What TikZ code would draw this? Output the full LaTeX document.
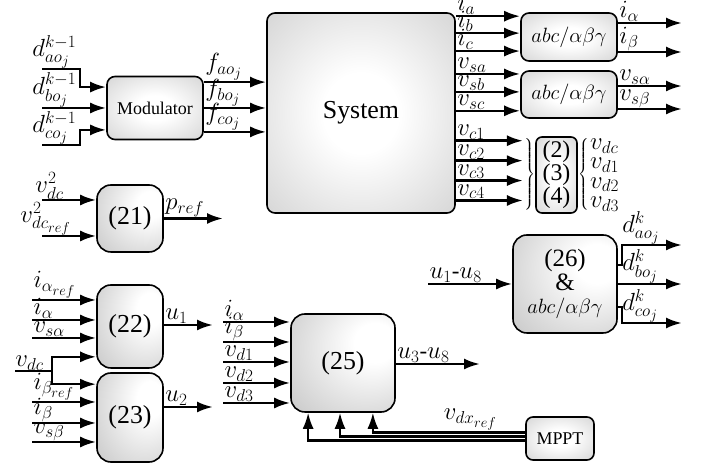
\documentclass[tikz,border=0pt]{standalone}
\usepackage{amsmath}
\usepackage{amssymb}
\usepackage[no-math]{fontspec}
\setmainfont{Liberation Serif}
\usepackage{tikz}
\usetikzlibrary{shapes.geometric, arrows, arrows.meta, calc, positioning}
\DeclareMathSizes{23}{23}{19}{15}
\pgfdeclareradialshading{boxshade}{\pgfpoint{0bp}{0bp}}{color(0bp)=(white); color(10bp)=(white); color(50bp)=(gray!50); color(72bp)=(gray!85)}
\pgfdeclareradialshading{sideshade}{\pgfpoint{18bp}{12bp}}{color(0bp)=(white); color(10bp)=(white); color(50bp)=(gray!50); color(72bp)=(gray!85)}
\tikzstyle{block} = [rectangle, rounded corners=12bp, line width=1.6bp, draw=black, shading=boxshade, inner sep=0pt, text centered, align=center, font=\fontsize{26}{30}\selectfont]
\tikzstyle{eqblock} = [block, rounded corners=14bp, shading=sideshade]
\tikzstyle{arrow} = [line width=2.6bp, -{Latex[length=16bp,width=11bp]}]
\tikzstyle{feed} = [line width=2.1bp, -{Latex[length=16bp,width=11bp]}]
\tikzstyle{lbl} = [inner sep=0.3bp, font=\fontsize{23}{25}\selectfont]

\begin{document}
\begin{tikzpicture}[x=1bp, y=1bp]
		\useasboundingbox (0,0) rectangle (702,468);
		\node (Modulator) [block, rounded corners=8bp, minimum width=96bp, minimum height=63bp, font=\fontsize{18}{20}\selectfont] at (155,360) {Modulator};
		\node (System) [block, rounded corners=8bp, minimum width=188bp, minimum height=200bp] at (361,355) {System};
		\node (Abc1) [block, rounded corners=8bp, minimum width=96bp, minimum height=48bp, font=\fontsize{22}{24}\selectfont] at (569,431) {$abc/\alpha\beta\gamma$};
		\node (Abc2) [block, rounded corners=8bp, minimum width=96bp, minimum height=47bp, font=\fontsize{22}{24}\selectfont] at (569,373.5) {$abc/\alpha\beta\gamma$};
		\node (Eqs) [block, rounded corners=6bp, minimum width=41bp, minimum height=76bp, font=\fontsize{24}{23}\selectfont] at (556.5,293) {(2)\\(3)\\(4)};
		\node (BraceL) [left = 0pt of Eqs, inner sep=0pt, font=\large] {$\left.\rule[-35bp]{0pt}{70bp}\right\}$};
		\node (BraceR) [right = 0pt of Eqs, inner sep=0pt, font=\large] {$\left\{\rule[-35bp]{0pt}{70bp}\right.$};
		\node (Vd) [right = 0pt of BraceR, inner sep=0pt, align=left, font=\fontsize{23}{19.5}\selectfont] {$v_{dc}$\\$v_{d1}$\\$v_{d2}$\\$v_{d3}$};
		\node (Block21) [eqblock, minimum width=66bp, minimum height=67bp] at (130,249.5) {(21)};
		\node (Block22) [eqblock, minimum width=66bp, minimum height=83bp] at (130,141.5) {(22)};
		\node (Block23) [eqblock, minimum width=66bp, minimum height=89bp] at (130,50.5) {(23)};
		\node (Block25) [eqblock, minimum width=104bp, minimum height=98bp] at (343,105) {(25)};
		\node (Block26) [eqblock, minimum width=104bp, minimum height=98bp, font=\fontsize{25}{24}\selectfont] at (565,184) {(26)\\\&\\{\fontsize{22}{24}\selectfont$abc/\alpha\beta\gamma$}};
		\node (Mppt) [block, rounded corners=7bp, minimum width=68bp, minimum height=43bp, font=\fontsize{18}{20}\selectfont] at (560,29.5) {MPPT};
		\coordinate (Dao) at (42,399);
		\coordinate (Dbo) at (42,360);
		\coordinate (Dco) at (42,323);
		\draw [arrow] (Dao) -- ++(38,0) |- ([yshift=21]Modulator.west);
		\draw [arrow] (Dbo) -- (Modulator);
		\draw [arrow] (Dco) -- ++(38,0) |- ([yshift=-22]Modulator.west);
		\node [lbl, anchor=south west, xshift=-10bp] at (Dao) {$d_{ao_j}^{k-1}$};
		\node [lbl, anchor=south west, xshift=-10bp] at (Dbo) {$d_{bo_j}^{k-1}$};
		\node [lbl, anchor=south west, xshift=-10bp] at (Dco) {$d_{co_j}^{k-1}$};
		\coordinate (Fao) at ([yshift=26]Modulator.east);
		\coordinate (Fbo) at (Modulator.east);
		\coordinate (Fco) at ([yshift=-24]Modulator.east);
		\draw [arrow] (Fao) -- (Fao -| System.west) node [lbl, pos=0, anchor=south west] {$f_{ao_j}$};
		\draw [arrow] (Fbo) -- (Fbo -| System.west) node [lbl, pos=0, anchor=south west] {$f_{bo_j}$};
		\draw [arrow] (Fco) -- (Fco -| System.west) node [lbl, pos=0, anchor=south west] {$f_{co_j}$};
		\coordinate (Ia) at ([yshift=-4]System.north east);
		\coordinate (Ib) at ([yshift=-21]System.north east);
		\coordinate (Ic) at ([yshift=-39]System.north east);
		\coordinate (Vsa) at ([yshift=-62]System.north east);
		\coordinate (Vsb) at ([yshift=-80]System.north east);
		\coordinate (Vsc) at ([yshift=-99]System.north east);
		\coordinate (Vc1) at ([yshift=-129]System.north east);
		\coordinate (Vc2) at ([yshift=-149]System.north east);
		\coordinate (Vc3) at ([yshift=-169]System.north east);
		\coordinate (Vc4) at ([yshift=-189]System.north east);
		\draw [arrow] (Ia) -- (Ia -| Abc1.west) node [lbl, pos=0, anchor=south west] {$i_a$};
		\draw [arrow] (Ib) -- (Ib -| Abc1.west) node [lbl, pos=0, anchor=south west] {$i_b$};
		\draw [arrow] (Ic) -- (Ic -| Abc1.west) node [lbl, pos=0, anchor=south west] {$i_c$};
		\draw [arrow] (Vsa) -- (Vsa -| Abc2.west) node [lbl, pos=0, anchor=south west] {$v_{sa}$};
		\draw [arrow] (Vsb) -- (Vsb -| Abc2.west) node [lbl, pos=0, anchor=south west] {$v_{sb}$};
		\draw [arrow] (Vsc) -- (Vsc -| Abc2.west) node [lbl, pos=0, anchor=south west] {$v_{sc}$};
		\draw [arrow] (Vc1) -- (Vc1 -| BraceL.west) node [lbl, pos=0, anchor=south west] {$v_{c1}$};
		\draw [arrow] (Vc2) -- (Vc2 -| BraceL.west) node [lbl, pos=0, anchor=south west] {$v_{c2}$};
		\draw [arrow] (Vc3) -- (Vc3 -| BraceL.west) node [lbl, pos=0, anchor=south west] {$v_{c3}$};
		\draw [arrow] (Vc4) -- (Vc4 -| BraceL.west) node [lbl, pos=0, anchor=south west] {$v_{c4}$};
		\coordinate (IalphaOut) at (682,445);
		\coordinate (IbetaOut) at (682,416);
		\coordinate (VsalphaOut) at (682,382);
		\coordinate (VsbetaOut) at (682,359);
		\draw [arrow] (Abc1.east |- IalphaOut) -- (IalphaOut) node [lbl, pos=0, anchor=south west] {$i_\alpha$};
		\draw [arrow] (Abc1.east |- IbetaOut) -- (IbetaOut) node [lbl, pos=0, anchor=south west] {$i_\beta$};
		\draw [arrow] (Abc2.east |- VsalphaOut) -- (VsalphaOut) node [lbl, pos=0, anchor=south west] {$v_{s\alpha}$};
		\draw [arrow] (Abc2.east |- VsbetaOut) -- (VsbetaOut) node [lbl, pos=0, anchor=south west] {$v_{s\beta}$};
		\coordinate (Vdcsq) at (42,268);
		\coordinate (Vdcsqref) at (42,232);
		\coordinate (Pref) at (223,249.5);
		\draw [arrow] (Vdcsq) -- (Vdcsq -| Block21.west);
		\draw [arrow] (Vdcsqref) -- (Vdcsqref -| Block21.west);
		\node [lbl, anchor=south west, xshift=-7bp] at (Vdcsq) {$v_{dc}^2$};
		\node [lbl, anchor=south west, xshift=-22bp] at (Vdcsqref) {$v_{dc_{ref}}^2$};
		\draw [arrow] (Block21) -- (Pref) node [lbl, pos=0, anchor=south west] {$p_{ref}$};
		\coordinate (IaRef) at (32,168);
		\coordinate (Ia22) at (32,148);
		\coordinate (Vsa22) at (32,130);
		\coordinate (VdcIn) at (15,97);
		\coordinate (IbRef) at (32,66);
		\coordinate (Ib23) at (32,45);
		\coordinate (Vsb23) at (32,26);
		\coordinate (U1) at (213,143);
		\coordinate (U2) at (213,61);
		\draw [arrow] (IaRef) -- (IaRef -| Block22.west) node [lbl, pos=0, anchor=south west] {$i_{\alpha_{ref}}$};
		\draw [arrow] (Ia22) -- (Ia22 -| Block22.west) node [lbl, pos=0, anchor=south west] {$i_\alpha$};
		\draw [arrow] (Vsa22) -- (Vsa22 -| Block22.west) node [lbl, pos=0, anchor=south west] {$v_{s\alpha}$};
		\draw [arrow] (VdcIn) -- ++(37,0) |- ([yshift=12]Block22.south west);
		\draw [arrow] (VdcIn) -- ++(37,0) |- ([yshift=-12]Block23.north west);
		\node [lbl, anchor=south west] at (VdcIn) {$v_{dc}$};
		\draw [arrow] (IbRef) -- (IbRef -| Block23.west) node [lbl, pos=0, anchor=south west] {$i_{\beta_{ref}}$};
		\draw [arrow] (Ib23) -- (Ib23 -| Block23.west) node [lbl, pos=0, anchor=south west] {$i_\beta$};
		\draw [arrow] (Vsb23) -- (Vsb23 -| Block23.west) node [lbl, pos=0, anchor=south west] {$v_{s\beta}$};
		\draw [arrow] (Block22.east |- U1) -- (U1) node [lbl, pos=0, anchor=south west] {$u_1$};
		\draw [arrow] (Block23.east |- U2) -- (U2) node [lbl, pos=0, anchor=south west] {$u_2$};
		\coordinate (Ia25) at (223,146);
		\coordinate (Ib25) at (223,126);
		\coordinate (Vd1) at (223,106);
		\coordinate (Vd2) at (223,85);
		\coordinate (Vd3) at (223,65);
		\coordinate (U38) at (480,104);
		\draw [arrow] (Ia25) -- (Ia25 -| Block25.west) node [lbl, pos=0, anchor=south west] {$i_\alpha$};
		\draw [arrow] (Ib25) -- (Ib25 -| Block25.west) node [lbl, pos=0, anchor=south west] {$i_\beta$};
		\draw [arrow] (Vd1) -- (Vd1 -| Block25.west) node [lbl, pos=0, anchor=south west] {$v_{d1}$};
		\draw [arrow] (Vd2) -- (Vd2 -| Block25.west) node [lbl, pos=0, anchor=south west] {$v_{d2}$};
		\draw [arrow] (Vd3) -- (Vd3 -| Block25.west) node [lbl, pos=0, anchor=south west] {$v_{d3}$};
		\draw [arrow] (Block25.east |- U38) -- (U38) node [lbl, pos=0, anchor=south west] {$u_3$-$u_8$};
		\draw [feed] ([yshift=6]Mppt.west) -| ([xshift=30]Block25.south) node [lbl, pos=0.18, above, yshift=1bp] {$v_{dx_{ref}}$};
		\draw [feed] ([yshift=2]Mppt.west) -| ([xshift=-3]Block25.south);
		\draw [feed] ([yshift=-2]Mppt.west) -| ([xshift=-35]Block25.south);
		\coordinate (U18) at (428,184);
		\coordinate (DaoK) at (682,223);
		\coordinate (DboK) at (682,184);
		\coordinate (DcoK) at (682,145);
		\draw [arrow] (U18) -- (Block26) node [lbl, pos=0, anchor=south west] {$u_1$-$u_8$};
		\draw [arrow] ([yshift=19]Block26.east) -- ++(4,0) |- (DaoK);
		\draw [arrow] (Block26) -- (DboK);
		\draw [arrow] ([yshift=-23]Block26.east) -- ++(4,0) |- (DcoK);
		\node [lbl, anchor=south west, xshift=4bp] at (DaoK -| Block26.east) {$d_{ao_j}^k$};
		\node [lbl, anchor=south west, xshift=4bp] at (DboK -| Block26.east) {$d_{bo_j}^k$};
		\node [lbl, anchor=south west, xshift=4bp] at (DcoK -| Block26.east) {$d_{co_j}^k$};
\end{tikzpicture}
\end{document}
